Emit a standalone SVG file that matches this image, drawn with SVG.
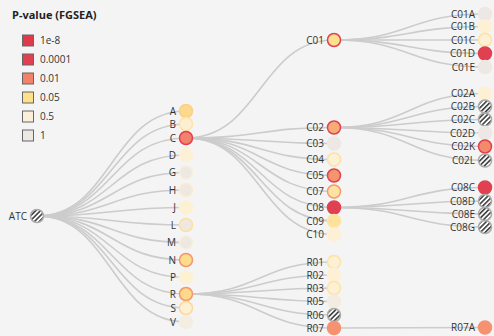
<svg xmlns="http://www.w3.org/2000/svg" width="494" height="336" viewBox="0 0 494 336">
<defs>
<pattern id="hatch" patternUnits="userSpaceOnUse" width="3.4" height="3.4" patternTransform="rotate(45)">
<rect width="3.4" height="3.4" fill="#ffffff"/>
<line x1="0.8" y1="0" x2="0.8" y2="3.4" stroke="#222" stroke-width="1.4"/>
</pattern>
<style>
text{font-family:"Open Sans","DejaVu Sans",sans-serif;font-size:10px;fill:#333}
.title{font-weight:bold;font-size:11px;fill:#222}
.lab{text-anchor:end}
.links path{fill:none;stroke:#cccccc;stroke-width:1.6}
circle{stroke-width:1.5}
.h{fill:url(#hatch);stroke:#aaa}
.sw{stroke:#666;stroke-width:1}
</style>
</defs>
<rect width="494" height="336" fill="#f4f4f4"/>

<g id="legend">
<text class="title" x="12" y="19">P-value (FGSEA)</text>
<rect class="sw" x="22.5" y="35" width="11" height="11" fill="#e0394b"/>
<text x="40" y="44">1e-8</text>
<rect class="sw" x="22.5" y="54" width="11" height="11" fill="#e0404f"/>
<text x="40" y="63">0.0001</text>
<rect class="sw" x="22.5" y="73" width="11" height="11" fill="#f3826a"/>
<text x="40" y="82">0.01</text>
<rect class="sw" x="22.5" y="92" width="11" height="11" fill="#fde08a"/>
<text x="40" y="101">0.05</text>
<rect class="sw" x="22.5" y="111" width="11" height="11" fill="#f9efdb"/>
<text x="40" y="120">0.5</text>
<rect class="sw" x="22.5" y="130" width="11" height="11" fill="#ece8e4"/>
<text x="40" y="139">1</text>
</g>

<g class="links">
<path d="M37,216C111.5,216 111.5,111 186,111"/>
<path d="M37,216C111.5,216 111.5,124 186,124"/>
<path d="M37,216C111.5,216 111.5,138 186,138"/>
<path d="M37,216C111.5,216 111.5,155 186,155"/>
<path d="M37,216C111.5,216 111.5,172.5 186,172.5"/>
<path d="M37,216C111.5,216 111.5,190 186,190"/>
<path d="M37,216C111.5,216 111.5,207.5 186,207.5"/>
<path d="M37,216C111.5,216 111.5,225 186,225"/>
<path d="M37,216C111.5,216 111.5,242.5 186,242.5"/>
<path d="M37,216C111.5,216 111.5,260 186,260"/>
<path d="M37,216C111.5,216 111.5,277.5 186,277.5"/>
<path d="M37,216C111.5,216 111.5,294 186,294"/>
<path d="M37,216C111.5,216 111.5,308 186,308"/>
<path d="M37,216C111.5,216 111.5,322 186,322"/>
<path d="M186,138C260,138 260,40 334,40"/>
<path d="M186,138C260,138 260,127.5 334,127.5"/>
<path d="M186,138C260,138 260,143.5 334,143.5"/>
<path d="M186,138C260,138 260,159.5 334,159.5"/>
<path d="M186,138C260,138 260,175.5 334,175.5"/>
<path d="M186,138C260,138 260,191.5 334,191.5"/>
<path d="M186,138C260,138 260,207.5 334,207.5"/>
<path d="M186,138C260,138 260,221 334,221"/>
<path d="M186,138C260,138 260,234.5 334,234.5"/>
<path d="M186,294C260,294 260,262 334,262"/>
<path d="M186,294C260,294 260,275 334,275"/>
<path d="M186,294C260,294 260,288 334,288"/>
<path d="M186,294C260,294 260,301.5 334,301.5"/>
<path d="M186,294C260,294 260,315 334,315"/>
<path d="M186,294C260,294 260,328 334,328"/>
<path d="M334,40C409.5,40 409.5,14 485,14"/>
<path d="M334,40C409.5,40 409.5,26.5 485,26.5"/>
<path d="M334,40C409.5,40 409.5,40 485,40"/>
<path d="M334,40C409.5,40 409.5,53.5 485,53.5"/>
<path d="M334,40C409.5,40 409.5,67 485,67"/>
<path d="M334,127.5C409.5,127.5 409.5,93.5 485,93.5"/>
<path d="M334,127.5C409.5,127.5 409.5,106.5 485,106.5"/>
<path d="M334,127.5C409.5,127.5 409.5,119.5 485,119.5"/>
<path d="M334,127.5C409.5,127.5 409.5,133 485,133"/>
<path d="M334,127.5C409.5,127.5 409.5,146.5 485,146.5"/>
<path d="M334,127.5C409.5,127.5 409.5,160.5 485,160.5"/>
<path d="M334,207.5C409.5,207.5 409.5,187.5 485,187.5"/>
<path d="M334,207.5C409.5,207.5 409.5,201 485,201"/>
<path d="M334,207.5C409.5,207.5 409.5,214 485,214"/>
<path d="M334,207.5C409.5,207.5 409.5,227 485,227"/>
<path d="M334,328C409.5,328 409.5,327.5 485,327.5"/>
</g>

<g id="n-ATC"><circle class="h" cx="37" cy="216" r="6.5"/><text class="lab" x="27" y="219.5">ATC</text></g>

<g id="n-A"><circle cx="186" cy="111" r="6.5" fill="#fdd98c" stroke="#fccf88"/><text class="lab" x="176" y="114.5">A</text></g>
<g id="n-B"><circle cx="186" cy="124" r="6.5" fill="#fdf0d2" stroke="#fde4a8"/><text class="lab" x="176" y="127.5">B</text></g>
<g id="n-C"><circle cx="186" cy="138" r="6.5" fill="#f2826d" stroke="#e0404f"/><text class="lab" x="176" y="141.5">C</text></g>
<g id="n-D"><circle cx="186" cy="155" r="6.5" fill="#fdf0d4" stroke="#fdf0d4"/><text class="lab" x="176" y="158.5">D</text></g>
<g id="n-G"><circle cx="186" cy="172.5" r="6.5" fill="#eee8e2" stroke="#f8eedb"/><text class="lab" x="176" y="176">G</text></g>
<g id="n-H"><circle cx="186" cy="190" r="6.5" fill="#eee8e2" stroke="#fbeccc"/><text class="lab" x="176" y="193.5">H</text></g>
<g id="n-J"><circle cx="186" cy="207.5" r="6.5" fill="#fdf1d4" stroke="#fdf1d4"/><text class="lab" x="176" y="211">J</text></g>
<g id="n-L"><circle cx="186" cy="225" r="6.5" fill="#efe8e0" stroke="#fde0a0"/><text class="lab" x="176" y="228.5">L</text></g>
<g id="n-M"><circle cx="186" cy="242.5" r="6.5" fill="#eee8e2" stroke="#f6eedf"/><text class="lab" x="176" y="246">M</text></g>
<g id="n-N"><circle cx="186" cy="260" r="6.5" fill="#fddc8c" stroke="#f4966e"/><text class="lab" x="176" y="263.5">N</text></g>
<g id="n-P"><circle cx="186" cy="277.5" r="6.5" fill="#fdf1d4" stroke="#fdf1d4"/><text class="lab" x="176" y="281">P</text></g>
<g id="n-R"><circle cx="186" cy="294" r="6.5" fill="#fdd98a" stroke="#f4966e"/><text class="lab" x="176" y="297.5">R</text></g>
<g id="n-S"><circle cx="186" cy="308" r="6.5" fill="#fdf0d4" stroke="#fdd89a"/><text class="lab" x="176" y="311.5">S</text></g>
<g id="n-V"><circle cx="186" cy="322" r="6.5" fill="#f3ede2" stroke="#f3ede2"/><text class="lab" x="176" y="325.5">V</text></g>

<g id="n-C01"><circle cx="334" cy="40" r="6.5" fill="#fde08e" stroke="#e0404f"/><text class="lab" x="324" y="43.5">C01</text></g>
<g id="n-C02"><circle cx="334" cy="127.5" r="6.5" fill="#f7ac78" stroke="#e0404f"/><text class="lab" x="324" y="131">C02</text></g>
<g id="n-C03"><circle cx="334" cy="143.5" r="6.5" fill="#ede8e3" stroke="#ede8e3"/><text class="lab" x="324" y="147">C03</text></g>
<g id="n-C04"><circle cx="334" cy="159.5" r="6.5" fill="#fdf0d8" stroke="#fde2a0"/><text class="lab" x="324" y="163">C04</text></g>
<g id="n-C05"><circle cx="334" cy="175.5" r="6.5" fill="#f3956f" stroke="#e0404f"/><text class="lab" x="324" y="179">C05</text></g>
<g id="n-C07"><circle cx="334" cy="191.5" r="6.5" fill="#fde3a2" stroke="#f5996f"/><text class="lab" x="324" y="195">C07</text></g>
<g id="n-C08"><circle cx="334" cy="207.5" r="6.5" fill="#e0404f" stroke="#e0404f"/><text class="lab" x="324" y="211">C08</text></g>
<g id="n-C09"><circle cx="334" cy="221" r="6.5" fill="#fde29b" stroke="#fde5a6"/><text class="lab" x="324" y="224.5">C09</text></g>
<g id="n-C10"><circle cx="334" cy="234.5" r="6.5" fill="#fdf0d4" stroke="#fdf0d4"/><text class="lab" x="324" y="238">C10</text></g>
<g id="n-R01"><circle cx="334" cy="262" r="6.5" fill="#fdf0d4" stroke="#fde3a5"/><text class="lab" x="324" y="265.5">R01</text></g>
<g id="n-R02"><circle cx="334" cy="275" r="6.5" fill="#fdf0d4" stroke="#fdf0d4"/><text class="lab" x="324" y="278.5">R02</text></g>
<g id="n-R03"><circle cx="334" cy="288" r="6.5" fill="#fdf0d4" stroke="#fde3a5"/><text class="lab" x="324" y="291.5">R03</text></g>
<g id="n-R05"><circle cx="334" cy="301.5" r="6.5" fill="#f4ece0" stroke="#f4ece0"/><text class="lab" x="324" y="305">R05</text></g>
<g id="n-R06"><circle class="h" cx="334" cy="315" r="6.5"/><text class="lab" x="324" y="318.5">R06</text></g>
<g id="n-R07"><circle cx="334" cy="328" r="6.5" fill="#f59272" stroke="#f59272"/><text class="lab" x="324" y="331.5">R07</text></g>

<g id="n-C01A"><circle cx="485" cy="14" r="6.5" fill="#ede8e3" stroke="#ede8e3"/><text class="lab" x="475" y="17.5">C01A</text></g>
<g id="n-C01B"><circle cx="485" cy="26.5" r="6.5" fill="#fdf0d4" stroke="#fdf0d4"/><text class="lab" x="475" y="30">C01B</text></g>
<g id="n-C01C"><circle cx="485" cy="40" r="6.5" fill="#fdf0d4" stroke="#fde3a5"/><text class="lab" x="475" y="43.5">C01C</text></g>
<g id="n-C01D"><circle cx="485" cy="53.5" r="6.5" fill="#e0404f" stroke="#e0404f"/><text class="lab" x="475" y="57">C01D</text></g>
<g id="n-C01E"><circle cx="485" cy="67" r="6.5" fill="#ede8e3" stroke="#ede8e3"/><text class="lab" x="475" y="70.5">C01E</text></g>
<g id="n-C02A"><circle cx="485" cy="93.5" r="6.5" fill="#fdf0d4" stroke="#fdf0d4"/><text class="lab" x="475" y="97">C02A</text></g>
<g id="n-C02B"><circle class="h" cx="485" cy="106.5" r="6.5"/><text class="lab" x="475" y="110">C02B</text></g>
<g id="n-C02C"><circle class="h" cx="485" cy="119.5" r="6.5"/><text class="lab" x="475" y="123">C02C</text></g>
<g id="n-C02D"><circle cx="485" cy="133" r="6.5" fill="#ede8e3" stroke="#ede8e3"/><text class="lab" x="475" y="136.5">C02D</text></g>
<g id="n-C02K"><circle cx="485" cy="146.5" r="6.5" fill="#f48a6c" stroke="#e0404f"/><text class="lab" x="475" y="150">C02K</text></g>
<g id="n-C02L"><circle class="h" cx="485" cy="160.5" r="6.5"/><text class="lab" x="475" y="164">C02L</text></g>
<g id="n-C08C"><circle cx="485" cy="187.5" r="6.5" fill="#e0404f" stroke="#e0404f"/><text class="lab" x="475" y="191">C08C</text></g>
<g id="n-C08D"><circle class="h" cx="485" cy="201" r="6.5"/><text class="lab" x="475" y="204.5">C08D</text></g>
<g id="n-C08E"><circle class="h" cx="485" cy="214" r="6.5"/><text class="lab" x="475" y="217.5">C08E</text></g>
<g id="n-C08G"><circle class="h" cx="485" cy="227" r="6.5"/><text class="lab" x="475" y="230.5">C08G</text></g>
<g id="n-R07A"><circle cx="485" cy="327.5" r="6.5" fill="#f59272" stroke="#f59272"/><text class="lab" x="475" y="331">R07A</text></g>
</svg>
